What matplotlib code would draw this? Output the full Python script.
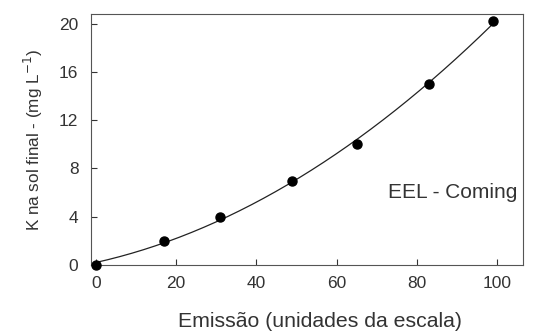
import numpy as np
import matplotlib
matplotlib.use("Agg")
import matplotlib.pyplot as plt

plt.rcParams['font.family'] = ['Liberation Sans', 'DejaVu Sans']

emissao = [0, 17, 31, 49, 65, 83, 99]
k_sol = [0, 2, 4, 7, 10, 15, 20.2]
x_ticks = [0, 20, 40, 60, 80, 100]
y_ticks = [0, 4, 8, 12, 16, 20]

fig = plt.figure(figsize=(5.33, 3.33), dpi=100)
ax = fig.add_axes([0.1707, 0.204, 0.811, 0.754])

coef = np.polyfit(emissao, k_sol, 2)
xs = np.linspace(0, 99, 200)
ax.plot(xs, np.polyval(coef, xs), color='#222222', lw=0.9)
ax.plot(emissao, k_sol, 'o', color='black', ms=6.5, clip_on=False, zorder=5)

ax.set_xlim(-1.2, 106.5)
ax.set_ylim(0, 20.8)
ax.set_xticks(x_ticks)
ax.set_yticks(y_ticks)
ax.tick_params(direction='in', length=4, width=0.8, labelsize=12.5, colors='#333333')
ax.tick_params(axis='y', pad=9)
ax.tick_params(axis='x', pad=8)
for s in ax.spines.values():
    s.set_color('#555555')
    s.set_linewidth(0.8)
ax.set_xlabel('Emissão (unidades da escala)', fontsize=15.3, color='#333333', va='baseline')
ax.xaxis.set_label_coords(0.53, -0.245)
ax.set_ylabel('K na sol final - (mg L$^{-1}$)', fontsize=12.3, color='#333333', labelpad=10)
ax.text(72.8, 6.0, 'EEL - Coming', fontsize=15, color='#333333', va='center', ha='left')

fig.savefig('out.png', dpi=100)
